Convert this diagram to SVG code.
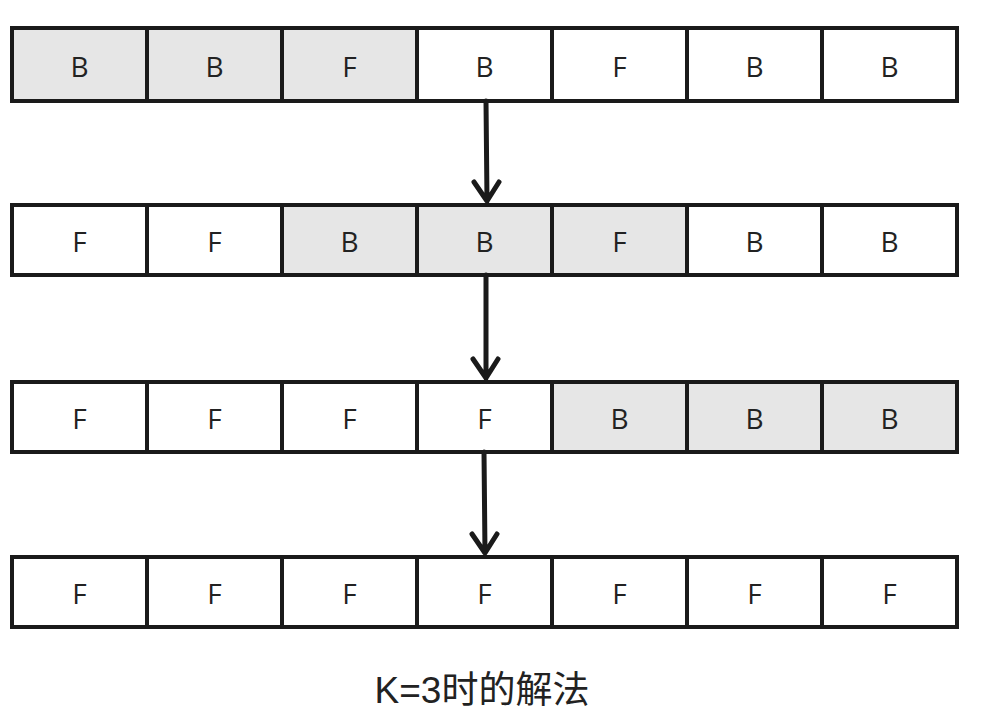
<svg xmlns="http://www.w3.org/2000/svg" width="988" height="722" viewBox="0 0 988 722">
<style>
.c{fill:#fff;stroke:#1a1a1a;stroke-width:4}
.s{fill:#e6e6e6}
.t{font-family:"Open Sans","Noto Sans",sans-serif;font-size:28px;fill:#222;text-anchor:middle;dominant-baseline:central}
.a{stroke:#1a1a1a;stroke-width:5;fill:none;stroke-linecap:round;stroke-linejoin:round}
.cap{font-family:"Liberation Sans","Noto Sans CJK SC",sans-serif;font-size:37px;fill:#222;text-anchor:middle}
</style>
<rect width="988" height="722" fill="#fff"/>
<g id="row1">
<g id="r1c1"><rect class="c s" x="12" y="28" width="135" height="73"/><text class="t" x="79.5" y="66">B</text></g>
<g id="r1c2"><rect class="c s" x="147" y="28" width="135" height="73"/><text class="t" x="214.5" y="66">B</text></g>
<g id="r1c3"><rect class="c s" x="282" y="28" width="135" height="73"/><text class="t" x="349.5" y="66">F</text></g>
<g id="r1c4"><rect class="c" x="417" y="28" width="135" height="73"/><text class="t" x="484.5" y="66">B</text></g>
<g id="r1c5"><rect class="c" x="552" y="28" width="135" height="73"/><text class="t" x="619.5" y="66">F</text></g>
<g id="r1c6"><rect class="c" x="687" y="28" width="135" height="73"/><text class="t" x="754.5" y="66">B</text></g>
<g id="r1c7"><rect class="c" x="822" y="28" width="135" height="73"/><text class="t" x="889.5" y="66">B</text></g>
</g>
<g id="row2">
<g id="r2c1"><rect class="c" x="12" y="205" width="135" height="70"/><text class="t" x="79.5" y="241">F</text></g>
<g id="r2c2"><rect class="c" x="147" y="205" width="135" height="70"/><text class="t" x="214.5" y="241">F</text></g>
<g id="r2c3"><rect class="c s" x="282" y="205" width="135" height="70"/><text class="t" x="349.5" y="241">B</text></g>
<g id="r2c4"><rect class="c s" x="417" y="205" width="135" height="70"/><text class="t" x="484.5" y="241">B</text></g>
<g id="r2c5"><rect class="c s" x="552" y="205" width="135" height="70"/><text class="t" x="619.5" y="241">F</text></g>
<g id="r2c6"><rect class="c" x="687" y="205" width="135" height="70"/><text class="t" x="754.5" y="241">B</text></g>
<g id="r2c7"><rect class="c" x="822" y="205" width="135" height="70"/><text class="t" x="889.5" y="241">B</text></g>
</g>
<g id="row3">
<g id="r3c1"><rect class="c" x="12" y="382" width="135" height="70"/><text class="t" x="79.5" y="418">F</text></g>
<g id="r3c2"><rect class="c" x="147" y="382" width="135" height="70"/><text class="t" x="214.5" y="418">F</text></g>
<g id="r3c3"><rect class="c" x="282" y="382" width="135" height="70"/><text class="t" x="349.5" y="418">F</text></g>
<g id="r3c4"><rect class="c" x="417" y="382" width="135" height="70"/><text class="t" x="484.5" y="418">F</text></g>
<g id="r3c5"><rect class="c s" x="552" y="382" width="135" height="70"/><text class="t" x="619.5" y="418">B</text></g>
<g id="r3c6"><rect class="c s" x="687" y="382" width="135" height="70"/><text class="t" x="754.5" y="418">B</text></g>
<g id="r3c7"><rect class="c s" x="822" y="382" width="135" height="70"/><text class="t" x="889.5" y="418">B</text></g>
</g>
<g id="row4">
<g id="r4c1"><rect class="c" x="12" y="557" width="135" height="70"/><text class="t" x="79.5" y="593">F</text></g>
<g id="r4c2"><rect class="c" x="147" y="557" width="135" height="70"/><text class="t" x="214.5" y="593">F</text></g>
<g id="r4c3"><rect class="c" x="282" y="557" width="135" height="70"/><text class="t" x="349.5" y="593">F</text></g>
<g id="r4c4"><rect class="c" x="417" y="557" width="135" height="70"/><text class="t" x="484.5" y="593">F</text></g>
<g id="r4c5"><rect class="c" x="552" y="557" width="135" height="70"/><text class="t" x="619.5" y="593">F</text></g>
<g id="r4c6"><rect class="c" x="687" y="557" width="135" height="70"/><text class="t" x="754.5" y="593">F</text></g>
<g id="r4c7"><rect class="c" x="822" y="557" width="135" height="70"/><text class="t" x="889.5" y="593">F</text></g>
</g>
<g id="connectors">
<path class="a" d="M486 101 L487 201 M474 182 L487 201 L499 182"/>
<path class="a" d="M486 275 L486 378 M473 359 L486 378 L498 359"/>
<path class="a" d="M484 452 L485 553 M472 534 L485 553 L497 534"/>
</g>
<text class="cap" x="482" y="703">K=3时的解法</text>
</svg>
